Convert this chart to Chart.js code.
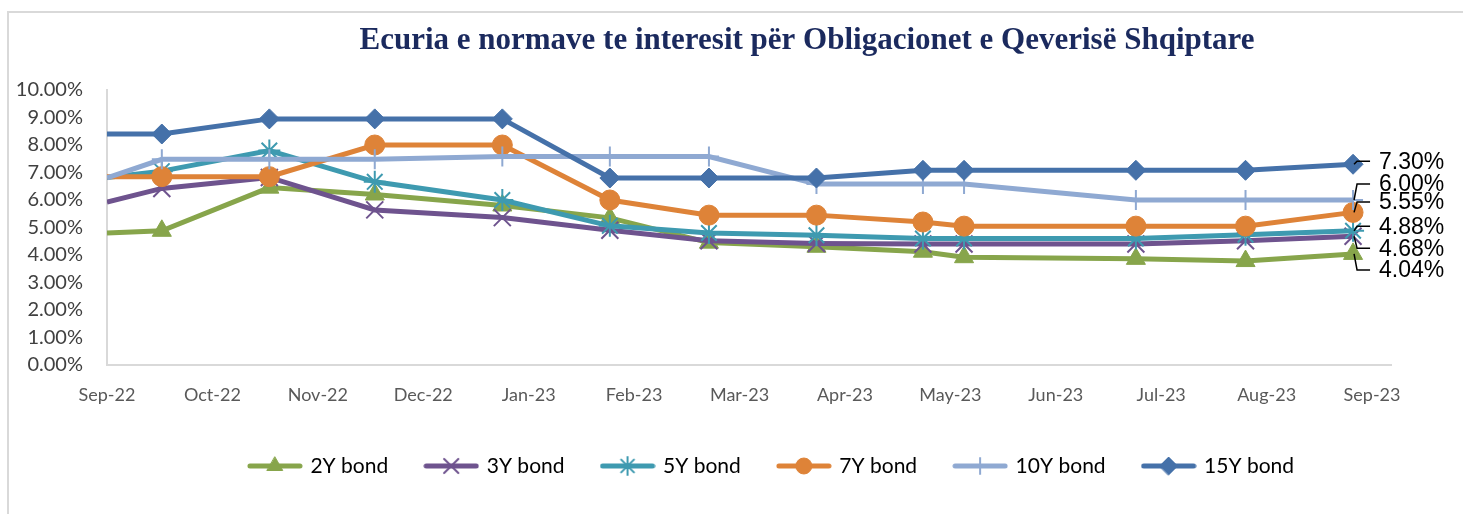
<!DOCTYPE html>
<html>
<head>
<meta charset="utf-8">
<title>Ecuria e normave te interesit</title>
<script src="https://cdn.jsdelivr.net/npm/chart.js@4.4.0/dist/chart.umd.min.js"></script>
<style>
  html, body { margin: 0; padding: 0; background: #fff; }
  #wrap { width: 1463px; height: 514px; position: relative; }
</style>
</head>
<body>
<div id="wrap"><canvas id="bondChart"></canvas></div>
<script>
// axis labels (one per month, Sep-22 = 0)
const monthLabels = ["Sep-22", "Oct-22", "Nov-22", "Dec-22", "Jan-23", "Feb-23", "Mar-23",
  "Apr-23", "May-23", "Jun-23", "Jul-23", "Aug-23", "Sep-23"];

// auction dates, as months after start of Sep-22
const obsMonth = [0, 0.52, 1.54, 2.54, 3.75, 4.77, 5.71, 6.73, 7.74, 8.13, 9.76, 10.80, 11.82];

// yields in %
const bond2Y  = [4.80, 4.88, 6.45, 6.20, 5.80, 5.35, 4.45, 4.30, 4.12, 3.92, 3.86, 3.78, 4.04];
const bond3Y  = [5.92, 6.42, 6.82, 5.64, 5.36, 4.90, 4.52, 4.42, 4.40, 4.40, 4.40, 4.52, 4.68];
const bond5Y  = [6.82, 7.05, 7.80, 6.66, 6.00, 5.06, 4.80, 4.72, 4.60, 4.60, 4.60, 4.74, 4.88];
const bond7Y  = [6.85, 6.85, 6.85, 8.00, 8.00, 6.00, 5.45, 5.45, 5.20, 5.05, 5.05, 5.05, 5.55];
const bond10Y = [6.80, 7.48, 7.48, 7.48, 7.58, 7.58, 7.58, 6.58, 6.58, 6.58, 6.00, 6.00, 6.00];
const bond15Y = [8.40, 8.40, 8.95, 8.95, 8.95, 6.80, 6.80, 6.80, 7.08, 7.08, 7.08, 7.08, 7.30];

const seriesNames = ["2Y bond", "3Y bond", "5Y bond", "7Y bond", "10Y bond", "15Y bond"];
const seriesValues = [bond2Y, bond3Y, bond5Y, bond7Y, bond10Y, bond15Y];

// look of each series
const seriesStyle = [
  { color: "#87A54B", point: "triangle", radius: 11, bw: 1,   legendR: 9 },
  { color: "#6E538E", point: "crossRot", radius: 12, bw: 2,   legendR: 10 },
  { color: "#3E9AB0", point: "star",     radius: 11, bw: 2,   legendR: 9 },
  { color: "#DE8338", point: "circle",   radius: 10, bw: 1,   legendR: 8 },
  { color: "#8FA9D2", point: "cross",    radius: 10, bw: 2,   legendR: 8 },
  { color: "#4571A9", point: "rectRot",  radius: 10, bw: 1,   legendR: 9 }
];

// vertical offset of the end-of-line value labels
const endLabelShift = [16, 12, -4.5, -10.5, -16, -3];

function legendSwatch(style) {
  const c = document.createElement("canvas");
  c.width = 56;
  c.height = 24;
  const g = c.getContext("2d");
  g.strokeStyle = style.color;
  g.fillStyle = style.color;
  g.lineCap = "round";
  g.lineWidth = 5;
  g.beginPath();
  g.moveTo(3, 12);
  g.lineTo(53, 12);
  g.stroke();
  g.lineWidth = style.bw;
  Chart.helpers.drawPoint(g, { pointStyle: style.point, radius: style.legendR, rotation: 0, borderWidth: style.bw }, 28, 12);
  return c;
}

const datasets = seriesNames.map((name, s) => {
  const st = seriesStyle[s];
  return {
    label: name,
    data: obsMonth.map((x, i) => ({ x: x, y: seriesValues[s][i] })),
    borderColor: st.color,
    backgroundColor: st.color,
    borderWidth: 5,
    pointStyle: st.point,
    pointRadius: ctx => ctx.dataIndex === 0 ? 0 : st.radius,
    pointBorderWidth: st.bw,
    pointBorderColor: st.color,
    pointBackgroundColor: st.color,
    tension: 0,
    order: seriesNames.length - s
  };
});

const pageBackground = {
  id: "pageBackground",
  beforeDraw(chart) {
    const ctx = chart.ctx;
    ctx.save();
    ctx.fillStyle = "#fff";
    ctx.fillRect(0, 0, chart.width, chart.height);
    ctx.strokeStyle = "#D9D9D9";
    ctx.lineWidth = 2;
    ctx.beginPath();
    ctx.moveTo(8, chart.height);
    ctx.lineTo(8, 12);
    ctx.lineTo(chart.width, 12);
    ctx.stroke();
    ctx.restore();
  }
};

// move title and legend to where the original had them
const placeBoxes = {
  id: "placeBoxes",
  afterLayout(chart) {
    const t = chart.titleBlock;
    const tw = t.right - t.left;
    t.left = 807 - tw / 2;
    t.right = t.left + tw;
    const l = chart.legend;
    const lw = l.right - l.left;
    const pad = l.options.labels.padding;
    l.left = 791 - lw / 2 - pad / 2;
    l.right = l.left + lw;
  }
};

const endLabels = {
  id: "endLabels",
  afterDatasetsDraw(chart) {
    const ctx = chart.ctx;
    ctx.save();
    ctx.font = "23px 'Liberation Sans', Arial, sans-serif";
    ctx.fillStyle = "#000";
    ctx.strokeStyle = "#000";
    ctx.lineWidth = 1.5;
    ctx.textBaseline = "middle";
    chart.data.datasets.forEach((ds, s) => {
      const meta = chart.getDatasetMeta(s);
      const pt = meta.data[meta.data.length - 1];
      const ly = pt.y + endLabelShift[s];
      ctx.beginPath();
      ctx.moveTo(pt.x + 1, pt.y);
      ctx.lineTo(pt.x + 4, ly);
      ctx.lineTo(pt.x + 17, ly);
      ctx.stroke();
      const v = ds.data[ds.data.length - 1].y;
      ctx.fillText(v.toFixed(2) + "%", pt.x + 26, ly + 1);
    });
    ctx.restore();
  }
};

new Chart(document.getElementById("bondChart"), {
  type: "line",
  data: { datasets: datasets },
  options: {
    responsive: true,
    maintainAspectRatio: false,
    animation: false,
    events: [],
    layout: { padding: { left: 0, right: 72, top: 0, bottom: 27.5 } },
    scales: {
      x: {
        type: "linear",
        min: 0,
        max: 12.18,
        afterBuildTicks: scale => { scale.ticks = monthLabels.map((m, i) => ({ value: i })); },
        afterFit: scale => { scale.height = 52.5; },
        ticks: {
          autoSkip: false,
          maxRotation: 0,
          padding: 19,
          color: "#595959",
          font: { family: "Lato", size: 18 },
          callback: v => monthLabels[v] ?? ""
        },
        grid: { display: false, drawTicks: false },
        border: { display: true, color: "#D9D9D9", width: 2 }
      },
      y: {
        min: 0,
        max: 10,
        afterFit: scale => { scale.width = 107; },
        ticks: {
          stepSize: 1,
          padding: 24,
          color: "#404040",
          font: { family: "Lato", size: 20 },
          callback: v => v.toFixed(2) + "%"
        },
        grid: { display: false, drawTicks: false },
        border: { display: true, color: "#D9D9D9", width: 2 }
      }
    },
    plugins: {
      title: {
        display: true,
        text: "Ecuria e normave te interesit për Obligacionet e Qeverisë Shqiptare",
        color: "#1B2A5E",
        font: { family: "'Liberation Serif', 'Times New Roman', serif", size: 31, weight: "bold" },
        padding: { top: 22.4, bottom: 30.4 }
      },
      legend: {
        position: "bottom",
        labels: {
          usePointStyle: true,
          pointStyleWidth: 50,
          padding: 38,
          color: "#404040",
          font: { family: "Lato", size: 21 },
          generateLabels: chart => chart.data.datasets.map((ds, i) => ({
            text: ds.label,
            pointStyle: legendSwatch(seriesStyle[i]),
            fillStyle: seriesStyle[i].color,
            strokeStyle: seriesStyle[i].color,
            lineWidth: 0,
            hidden: false,
            datasetIndex: i
          }))
        }
      },
      tooltip: { enabled: false }
    }
  },
  plugins: [pageBackground, placeBoxes, endLabels]
});
</script>
</body>
</html>
